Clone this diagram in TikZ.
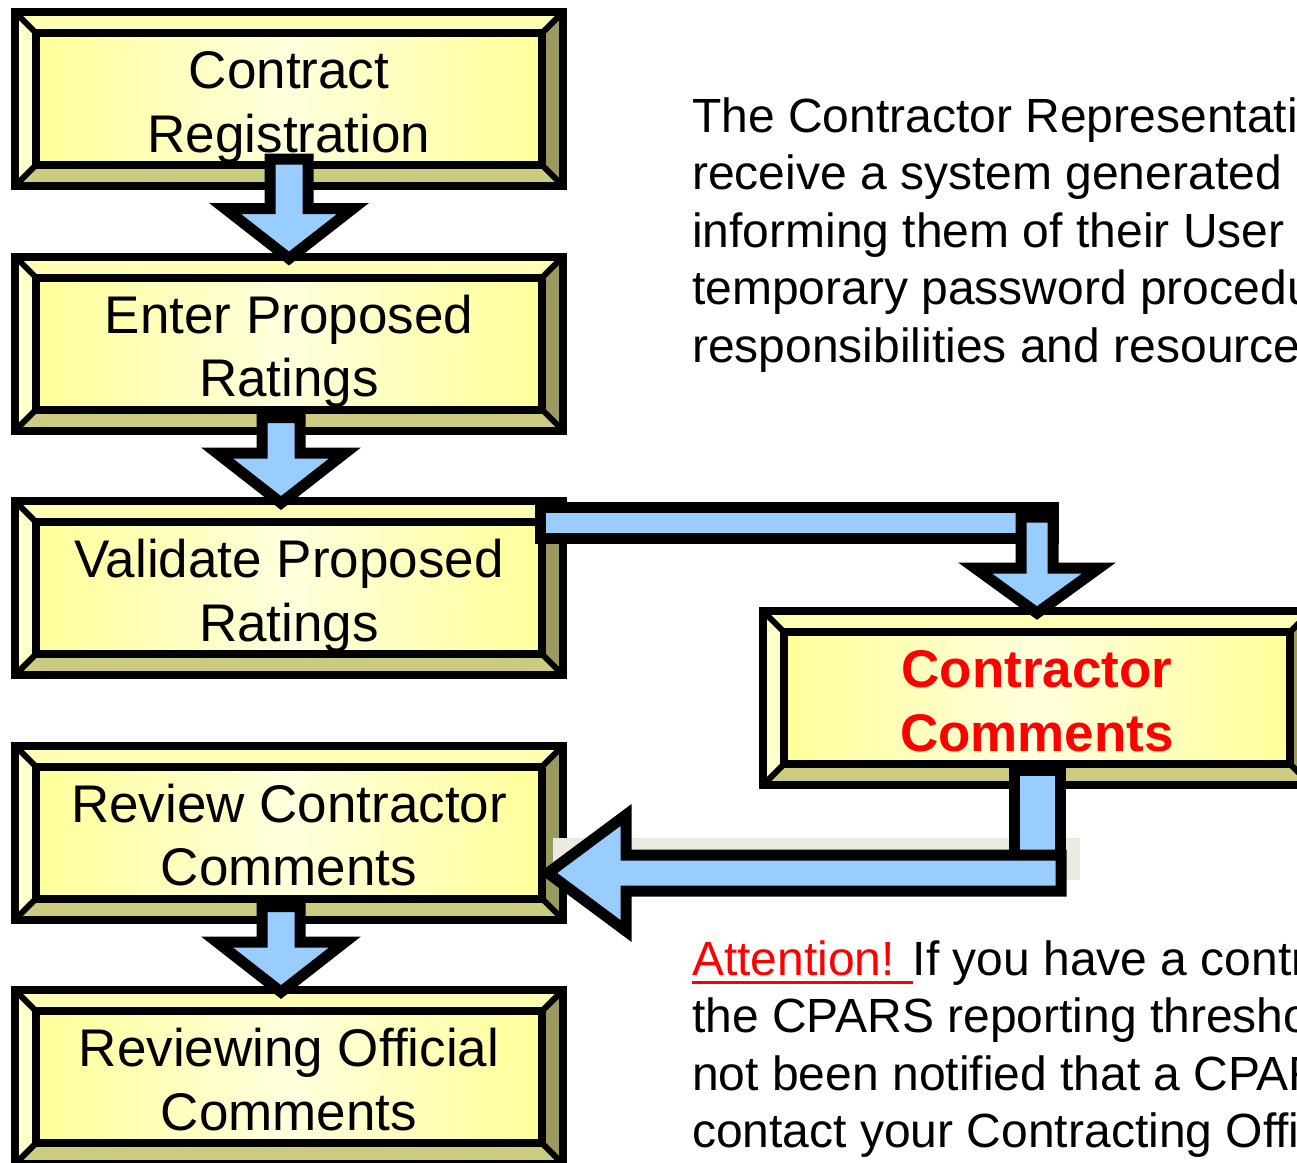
\documentclass[tikz,border=0pt]{standalone}
\usepackage{fontspec}
\setmainfont{Liberation Sans}
\usetikzlibrary{calc}

\definecolor{arrowblue}{HTML}{99CCFF}
\definecolor{bvtop}{HTML}{FFFFB3}
\definecolor{bvleft}{HTML}{FFFFCC}
\definecolor{bvright}{HTML}{999960}
\definecolor{bvbottom}{HTML}{CCCC80}
\definecolor{bvface}{HTML}{FFFF99}
\definecolor{bvlight}{HTML}{FFFFDD}
\definecolor{shadowgrey}{HTML}{ECEAE0}

\newcommand{\redul}[1]{\setbox0=\hbox{#1}\rlap{\rule[-9pt]{\wd0}{3.5pt}}\box0}

\tikzset{
  stepbox/.style={rectangle, draw=black, line width=8pt, fill=bvface,
    minimum width=548pt, minimum height=174pt, outer sep=0pt, inner sep=0pt,
    align=center, font=\fontsize{53pt}{63.5pt}\selectfont,
    text height=106.5pt, text depth=0.5pt,
    path picture={
      \coordinate (pnw) at (path picture bounding box.north west);
      \coordinate (pse) at (path picture bounding box.south east);
      \coordinate (pne) at (pnw -| pse);
      \coordinate (psw) at (pnw |- pse);
      \coordinate (qnw) at ($(pnw)+(21,21)$);
      \coordinate (qne) at ($(pne)+(-21,21)$);
      \coordinate (qsw) at ($(psw)+(21,-21)$);
      \coordinate (qse) at ($(pse)+(-21,-21)$);
      \fill[bvtop] (pnw) -- (pne) -- (qne) -- (qnw) -- cycle;
      \fill[bvleft] (pnw) -- (qnw) -- (qsw) -- (psw) -- cycle;
      \fill[bvright] (pne) -- (pse) -- (qse) -- (qne) -- cycle;
      \fill[bvbottom] (psw) -- (pse) -- (qse) -- (qsw) -- cycle;
      \draw[line width=6pt] (pnw) -- (qnw) (pne) -- (qne) (psw) -- (qsw) (pse) -- (qse);
      \shade[left color=bvface, right color=bvface, middle color=bvlight,
        draw=black, line width=8pt] (qnw) rectangle (qse);
    }},
  blockarrow/.style={fill=arrowblue, draw=black, line width=11pt, line join=miter},
  bodytext/.style={align=left, inner sep=0pt, font=\fontsize{48pt}{57.5pt}\selectfont}
}

\begin{document}
\begin{tikzpicture}[x=1pt,y=-1pt]
  \useasboundingbox (0,0) rectangle (1297,1162);
  \fill[white] (0,0) rectangle (1297,1162);

  % process boxes
  \node[stepbox] (reg) at (289,99) {Contract\\Registration};
  \node[stepbox] (ent) at (289,343.5) {Enter Proposed\\Ratings};
  \node[stepbox] (val) at (289,588) {Validate Proposed\\Ratings};
  \node[stepbox] (rev) at (289,832.5) {Review Contractor\\Comments};
  \node[stepbox] (off) at (289,1077) {Reviewing Official\\Comments};
  \node[stepbox, text=red, font=\fontsize{53pt}{63.5pt}\selectfont\bfseries] (cc) at (1037,698) {Contractor\\Comments};

  % down arrows
  \draw[blockarrow] ($(reg.south)+(-19,-27)$) -- ($(ent.north)+(-19,-48)$) -- ($(ent.north)+(-64,-48)$)
    -- ($(ent.north)+(0,2)$) -- ($(ent.north)+(64,-48)$) -- ($(ent.north)+(19,-48)$) -- ($(reg.south)+(19,-27)$) -- cycle;
  \draw[blockarrow] ($(ent.south)+(-27,-13)$) -- ($(val.north)+(-27,-48)$) -- ($(val.north)+(-72,-48)$)
    -- ($(val.north)+(-8,2)$) -- ($(val.north)+(56,-48)$) -- ($(val.north)+(11,-48)$) -- ($(ent.south)+(11,-13)$) -- cycle;
  \draw[blockarrow] ($(rev.south)+(-27,-13)$) -- ($(off.north)+(-27,-48)$) -- ($(off.north)+(-72,-48)$)
    -- ($(off.north)+(-8,2)$) -- ($(off.north)+(56,-48)$) -- ($(off.north)+(11,-48)$) -- ($(rev.south)+(11,-13)$) -- cycle;

  % out to the contractor
  \draw[blockarrow] ($(val.north east)+(-23,6)$) rectangle ($(val.north -| cc.north)+(16,37)$);
  \draw[blockarrow] ($(val.north -| cc.north)+(-16,16)$) -- ($(cc.north)+(-16,-43)$) -- ($(cc.north)+(-62,-43)$)
    -- ($(cc.north)+(0,2)$) -- ($(cc.north)+(62,-43)$) -- ($(cc.north)+(16,-43)$) -- ($(val.north -| cc.north)+(16,16)$) -- cycle;

  % back to the review
  \fill[shadowgrey] ($(rev.east)+(-10,5.5)$) rectangle ($(cc.south)+(43,95)$);
  \draw[blockarrow] ($(cc.south)+(-23,-15)$) rectangle ($(cc.south)+(23,88)$);
  \draw[blockarrow] ($(rev.east -| cc.south)+(24,22.5)$) -- ($(rev.east)+(63,22.5)$) -- ($(rev.east)+(63,-17.5)$)
    -- ($(rev.east)+(-15,40.5)$) -- ($(rev.east)+(63,98.5)$) -- ($(rev.east)+(63,58.5)$) -- ($(rev.east -| cc.south)+(24,58.5)$) -- cycle;

  % notes
  \node[bodytext, anchor=base west] (note) at (692,362) {The Contractor Representative\\
    receive a system generated e-mail\\
    informing them of their User\\
    temporary password procedures\\
    responsibilities and resources};
  \node[bodytext, anchor=base west] (attn) at (692,1147.5) {{\color{red}\redul{Attention! }}If you have a contract\\
    the CPARS reporting threshold\\
    not been notified that a CPARS\\
    contact your Contracting Officer};
\end{tikzpicture}
\end{document}
